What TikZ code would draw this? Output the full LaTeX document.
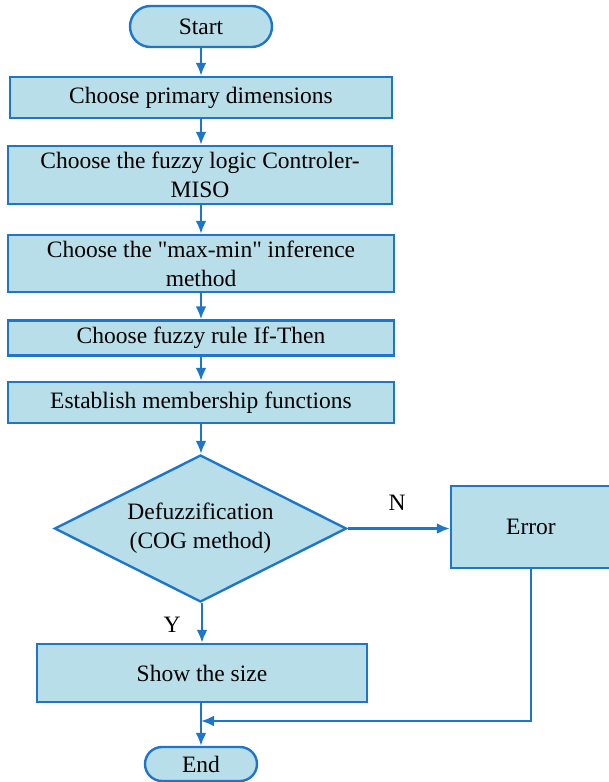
\documentclass[tikz,border=0pt]{standalone}
\usepackage{fontspec}
\setmainfont{Liberation Serif}[Ligatures=TeXOff]
\usetikzlibrary{shapes.geometric,arrows.meta}
\definecolor{boxfill}{RGB}{184,222,233}
\definecolor{boxline}{RGB}{30,118,200}
\begin{document}
\begin{tikzpicture}[x=1pt,y=-1pt,
  every node/.style={font=\fontsize{23.5}{29}\selectfont},
  proc/.style={draw=boxline,fill=boxfill,line width=2.4pt,rectangle,inner sep=0pt,align=center},
  dec/.style={draw=boxline,fill=boxfill,line width=2.4pt,diamond,inner sep=0pt},
  flow/.style={draw=boxline,line width=2.4pt,-{Latex[length=13pt,width=11pt]}},
  lab/.style={inner sep=0pt}]
\useasboundingbox (0,0) rectangle (609,782);
\node[draw=boxline,fill=boxfill,line width=2.4pt,rounded corners=20.5pt,minimum width=142pt,minimum height=41pt,inner sep=0pt] (start) at (201,26.5) {Start};
\node[proc,minimum width=382pt,minimum height=41pt] (b1) at (201,97.5) {Choose primary dimensions};
\node[proc,minimum width=384pt,minimum height=58pt] (b2) at (200,175) {Choose the fuzzy logic Controler-\\MISO};
\node[proc,minimum width=386pt,minimum height=57pt] (b3) at (201,263.5) {Choose the "max-min" inference\\method};
\node[proc,minimum width=386pt,minimum height=35pt] (b4) at (201,338) {Choose fuzzy rule If-Then};
\node[proc,minimum width=386pt,minimum height=41pt] (b5) at (201,402.5) {Establish membership functions};
\node[dec,minimum width=292pt,minimum height=147pt] (d) at (200.5,528.5) {};
\node[lab,align=center] (dt) at (d.center) {Defuzzification\\(COG method)};
\node[proc,minimum width=160pt,minimum height=82pt] (err) at (531,527) {Error};
\node[proc,minimum width=330pt,minimum height=58pt] (show) at (202,673) {Show the size};
\node[draw=boxline,fill=boxfill,line width=2.4pt,rounded corners=17pt,minimum width=112pt,minimum height=34pt,inner sep=0pt] (end) at (201,764) {End};
\coordinate (m) at (201,721);
\coordinate (c) at (531,721);
\node[lab] (n) at (397,503) {N};
\node[lab] (y) at (172,625) {Y};
\draw[flow] (start) -- (b1);
\draw[flow] (b1) -- (b2.north -| b1.south);
\draw[flow] (b2.south -| b1.south) -- (b3);
\draw[flow] (b3) -- (b4);
\draw[flow] (b4) -- (b5);
\draw[flow] (b5.south) -- (d.north -| b5.south);
\draw[flow] (d.east) -- (err.west |- d.east);
\draw[flow] (d.south -| show.north) -- (show.north);
\draw[flow] (show.south -| end.north) -- (end.north);
\draw[flow] (err.south -| c) -- (c) -- (m);
\end{tikzpicture}
\end{document}
